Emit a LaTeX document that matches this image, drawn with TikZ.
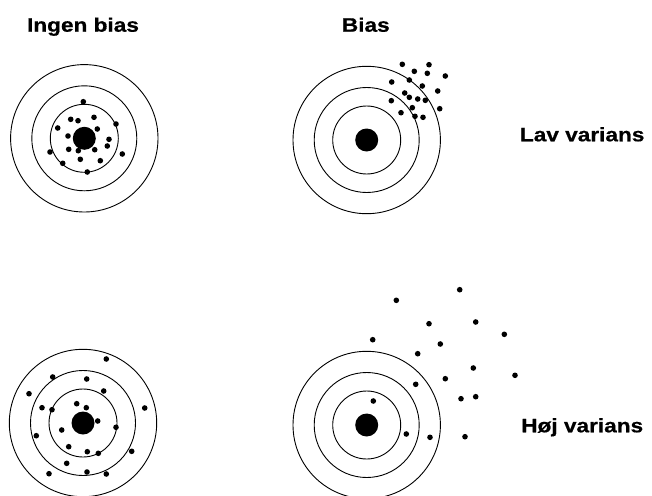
\documentclass[tikz,border=0pt]{standalone}
\usepackage{fontspec}
\setmainfont{Liberation Sans}[BoldFeatures={FakeBold=0.6}]
\begin{document}
\begin{tikzpicture}[x=1pt,y=-1pt,
  ring/.style={line width=0.9pt},
  lbl/.style={font=\fontsize{19.5}{24}\selectfont\bfseries, anchor=base, inner sep=0pt, xscale=1.16},
  dot/.style={fill=black}]
\useasboundingbox (0,0) rectangle (652,495);
% targets
\def\target#1#2{%
  \draw[ring] (#1,#2) circle (73.7);
  \draw[ring] (#1,#2) circle (52.5);
  \draw[ring] (#1,#2) circle (34);
  \fill (#1,#2) circle (11.5);}
\target{84.3}{138.3}
\target{366.7}{140}
\target{83}{423}
\target{366.7}{425}
% dots top-left
\foreach \p in {(83.3,101.7),(70.7,119.3),(78,120.7),(94,117.3),(116,124),(57.7,128),(68,136),(97.3,129),(109,139.3),(107.3,146),(68.7,149.3),(78.3,150.7),(94.7,149.7),(50,152),(122.3,154),(80.3,159.3),(62.7,163.3),(100.3,160.7),(87.3,172)}
  \fill[dot] \p circle (2.8);
% dots top-right
\foreach \p in {(402.3,64.3),(429,64.7),(414.3,71.3),(427.3,73.3),(445.3,76),(391.7,82),(409.3,80),(422.3,86),(437.7,91),(404.7,93),(409.3,97.3),(417.7,99),(425.3,100.3),(391.3,100.7),(412.3,107.7),(439.7,108.7),(401,112.7),(415,116.3),(423,117.3)}
  \fill[dot] \p circle (2.8);
% dots bottom-left
\foreach \p in {(106.3,359),(52.7,377),(86.7,379),(103.7,391),(29,393.7),(76.7,403.7),(86.3,407.7),(42,407.7),(52,409.7),(144.7,408),(97.7,421),(116,427.3),(61.7,430),(36.3,435.7),(68.7,446.7),(87.3,451.7),(98.3,453.3),(131.7,451.3),(66.7,463.3),(49,473.7),(87,472),(106.3,474)}
  \fill[dot] \p circle (2.8);
% dots bottom-right
\foreach \p in {(459.7,289.7),(396.3,300.3),(429,323.7),(475.7,322),(504.3,334.3),(372.7,339.7),(440.3,344),(417.7,353.7),(473.3,368),(515,375.3),(445.3,378.7),(415.7,384.3),(461,398.7),(475.7,396.7),(373.3,401),(406.3,434),(430,437.3),(465,436.7)}
  \fill[dot] \p circle (2.8);
% labels
\node[lbl] (l1) at (83,31.7) {Ingen bias};
\node[lbl] (l2) at (365.8,31.7) {Bias};
\node[lbl] (l3) at (582.2,141.3) {Lav varians};
\node[lbl] (l4) at (582.2,432.3) {Høj varians};
\end{tikzpicture}
\end{document}
